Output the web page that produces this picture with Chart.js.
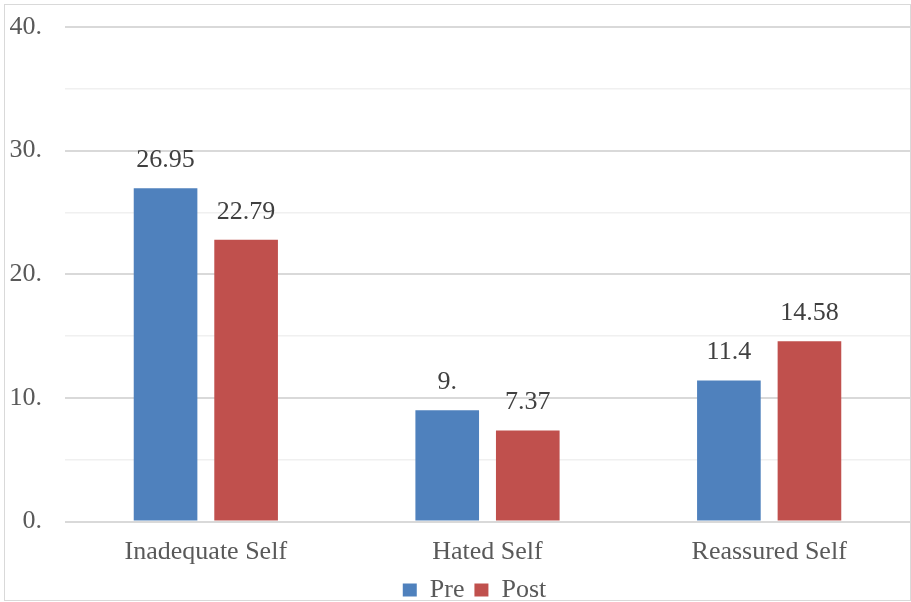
<!DOCTYPE html>
<html>
<head>
<meta charset="utf-8">
<script src="https://cdn.jsdelivr.net/npm/chart.js@4/dist/chart.umd.min.js"></script>
<style>
  html, body { margin: 0; padding: 0; background: #fff; overflow: hidden; }
  #wrap { position: relative; width: 911px; height: 602px; overflow: hidden; }
  #frame { position: absolute; left: 4px; top: 4px; width: 905px; height: 595px; border: 1px solid #d9d9d9; pointer-events: none; }
</style>
</head>
<body>
<div id="wrap">
  <canvas id="myChart" width="911" height="613" style="width:911px;height:613px;display:block"></canvas>
  <div id="frame"></div>
</div>
<script>
const categories = ['Inadequate Self', 'Hated Self', 'Reassured Self'];
const preValues = [26.95, 9, 11.4];
const postValues = [22.79, 7.37, 14.58];
const seriesNames = ['Pre', 'Post'];
const yTicks = [0, 10, 20, 30, 40];

const FONT = "'Liberation Serif', 'Times New Roman', serif";

function fmt(v) {
    return Number.isInteger(v) ? v + '.' : String(v);
}

// value labels over the bars
const barLabels = {
    id: 'barLabels',
    afterDatasetsDraw(chart) {
        const ctx = chart.ctx;
        ctx.save();
        ctx.font = '26px ' + FONT;
        ctx.fillStyle = '#404040';
        ctx.textAlign = 'center';
        ctx.textBaseline = 'middle';
        chart.data.datasets.forEach(function (ds, i) {
            chart.getDatasetMeta(i).data.forEach(function (bar, j) {
                ctx.fillText(fmt(ds.data[j]), bar.x, bar.y - 28);
            });
        });
        ctx.restore();
    }
};

// legend sits a bit right of the canvas centre in the original
const legendShift = {
    id: 'legendShift',
    afterLayout(chart) {
        chart.legend.left = 39;
    }
};

const ctx = document.getElementById('myChart');

new Chart(ctx, {
    type: 'bar',
    data: {
        labels: categories,
        datasets: [{
            label: seriesNames[0],
            data: preValues,
            backgroundColor: '#4f81bd',
            categoryPercentage: 0.572,
            barPercentage: 0.79
        }, {
            label: seriesNames[1],
            data: postValues,
            backgroundColor: '#c0504d',
            categoryPercentage: 0.572,
            barPercentage: 0.79
        }]
    },
    options: {
        responsive: false,
        animation: false,
        layout: {padding: {top: 27, right: 1, left: 0, bottom: 0}},
        plugins: {
            legend: {
                position: 'bottom',
                labels: {
                    font: {family: FONT, size: 26},
                    color: '#595959',
                    boxWidth: 14,
                    boxHeight: 13,
                    padding: 10
                }
            },
            tooltip: {enabled: false}
        },
        scales: {
            y: {
                min: yTicks[0],
                max: yTicks[yTicks.length - 1],
                afterFit: function (scale) {
                    scale.width = 65;
                    scale.paddingTop = 0;
                    scale.paddingBottom = 0;
                },
                ticks: {
                    stepSize: 5,
                    padding: 23,
                    color: '#595959',
                    font: {family: FONT, size: 26},
                    callback: function (v) { return yTicks.includes(v) ? fmt(v) : ''; }
                },
                grid: {
                    drawTicks: false,
                    color: function (c) { return c.tick.value % 10 === 0 ? '#d9d9d9' : '#f0f0f0'; },
                    lineWidth: function (c) { return c.tick.value % 10 === 0 ? 2 : 1.5; }
                },
                border: {display: false}
            },
            x: {
                afterFit: function (scale) { scale.height = 45.5; },
                ticks: {
                    padding: 15,
                    color: '#595959',
                    font: {family: FONT, size: 26}
                },
                grid: {display: false, drawTicks: false},
                border: {display: false}
            }
        }
    },
    plugins: [barLabels, legendShift]
});
</script>
</body>
</html>
